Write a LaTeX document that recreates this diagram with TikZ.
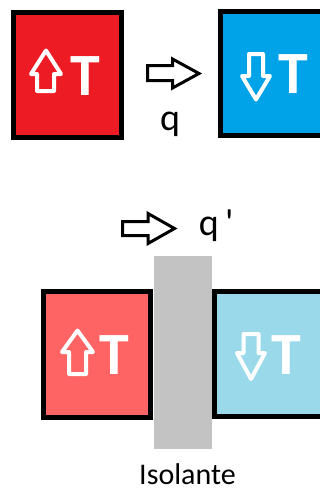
\documentclass[tikz,border=0pt]{standalone}
\usepackage{fontspec}
\setmainfont{Carlito}
\definecolor{hotred}{HTML}{ED1C24}
\definecolor{coldblue}{HTML}{00A2E8}
\definecolor{warmred}{HTML}{FF6464}
\definecolor{coolblue}{HTML}{99D9EA}
\definecolor{insul}{HTML}{C3C3C3}
\begin{document}
\begin{tikzpicture}[x=.75pt,y=-.75pt,
  body/.style={rectangle,draw,line width=3.75pt,inner sep=0pt},
  heat/.style={draw,line width=2.25pt,fill=white,line join=miter},
  sign/.style={draw=white,line width=3pt,line join=round},
  tlab/.style={text=white,inner sep=0pt,font=\fontsize{45}{45}\selectfont\bfseries},
  qlab/.style={inner sep=0pt,font=\fontsize{28.5}{28.5}\selectfont}]
\useasboundingbox (0,0) rectangle (320,489);
% before contact
\draw (67.5,75) node[body,fill=hotred,minimum width=81pt,minimum height=93.75pt] (a) {};
\draw (274.5,73.5) node[body,fill=coldblue,minimum width=81pt,minimum height=93pt] (b) {};
\draw[sign] (37,91) -- (37,74) -- (31,74) -- (46,50.5) -- (61,74) -- (54,74) -- (54,91) -- cycle;
\draw (85,76) node[tlab] (ta) {T};
\draw[sign] (249,54) -- (263,54) -- (263,76) -- (270,76) -- (256,99.5) -- (242,76) -- (249,76) -- cycle;
\draw (293,74) node[tlab] (tb) {T};
\draw[heat] (147.5,65.5) -- (172.5,65.5) -- (172.5,59) -- (199,73.5) -- (172.5,88) -- (172.5,80.5) -- (147.5,80.5) -- cycle;
\draw (170,130) node[qlab,anchor=base] (q) {q};
% with insulator
\draw (183,352.5) node[fill=insul,inner sep=0pt,minimum width=43.5pt,minimum height=144.75pt] (c) {};
\draw (97,354.5) node[body,fill=warmred,minimum width=80.25pt,minimum height=94.5pt] (d) {};
\draw (268.5,354) node[body,fill=coolblue,minimum width=81pt,minimum height=93.75pt] (e) {};
\draw[sign] (69,374) -- (69,352) -- (62,352) -- (77.5,330.5) -- (93,352) -- (86,352) -- (86,374) -- cycle;
\draw (114.7,355) node[tlab] (td) {T};
\draw[sign] (243.5,334) -- (258.5,334) -- (258.5,353) -- (265,353) -- (251,379) -- (237,353) -- (243.5,353) -- cycle;
\draw (286.7,355) node[tlab] (te) {T};
\draw[heat] (122.5,221.5) -- (148,221.5) -- (148,213.5) -- (174.5,228.5) -- (148,243.5) -- (148,235.5) -- (122.5,235.5) -- cycle;
\draw (198.5,235) node[qlab,anchor=base west] (qq) {q\,\textquotesingle};
\draw (187.5,484) node[inner sep=0pt,anchor=base,font=\fontsize{22.5}{22.5}\selectfont] (iso) {Isolante};
\end{tikzpicture}
\end{document}
